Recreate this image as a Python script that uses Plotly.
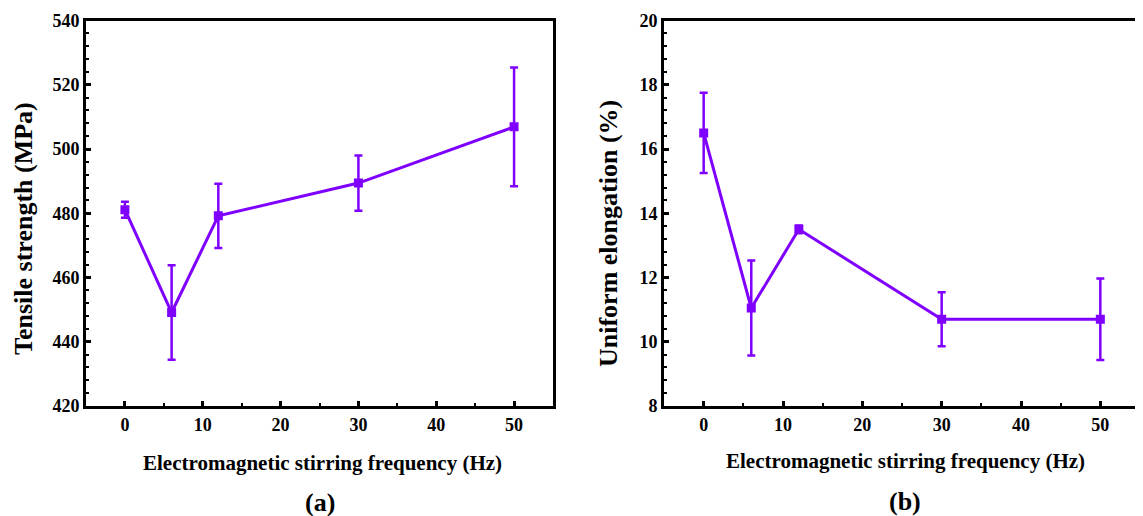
import plotly.graph_objects as go

# ---- data ----
freq = [0, 6, 12, 30, 50]
tensile = [481.1, 449.1, 479.2, 489.4, 506.9]
tensile_err = [2.5, 14.7, 10.0, 8.6, 18.5]
elong = [16.5, 11.05, 13.5, 10.7, 10.7]
elong_err = [1.25, 1.48, 0.12, 0.84, 1.27]

x_ticks = [0, 10, 20, 30, 40, 50]
ya_ticks = [420, 440, 460, 480, 500, 520, 540]
yb_ticks = [8, 10, 12, 14, 16, 18, 20]

x_title = "Electromagnetic stirring frequency (Hz)"
ya_title = "Tensile strength (MPa)"
yb_title = "Uniform elongation (%)"

COLOR = "#7F00FF"
FONT = "Liberation Serif"
W, H = 1143, 516
OFF = 8  # page body margin offset


def px_x(x):
    return (x - OFF) / W


def px_y(y):
    return 1 - (y - OFF) / H


fig = go.Figure()


def add_series(x, y, err, xa, ya):
    fig.add_trace(go.Scatter(
        x=x, y=y, xaxis=xa, yaxis=ya, mode="lines+markers",
        line=dict(color=COLOR, width=3),
        marker=dict(symbol="square", size=9, color=COLOR),
        error_y=dict(type="data", array=err, visible=True, color=COLOR,
                     thickness=2.5, width=4),
        showlegend=False,
    ))


add_series(freq, tensile, tensile_err, "x", "y")
add_series(freq, elong, elong_err, "x2", "y2")

ydom = [px_y(406), px_y(20.5)]
tickfont = dict(family=FONT, size=18, color="black", weight="bold")


def xaxis(domain, anchor):
    return dict(domain=domain, anchor=anchor, range=[-5, 55], automargin=False,
                tickvals=x_ticks, ticks="inside", ticklen=5, tickwidth=2.5,
                tickcolor="black", showline=True, linewidth=3, linecolor="black",
                mirror=True, showgrid=False, zeroline=False, tickfont=tickfont,
                minor=dict(dtick=5, tick0=0, ticks="inside", ticklen=3, tickwidth=2,
                           tickcolor="black"))


def yaxis(domain, anchor, rng, ticks, minor):
    return dict(domain=domain, anchor=anchor, range=rng, tickvals=ticks,
                automargin=False,
                ticks="inside", ticklen=5, tickwidth=2.5, tickcolor="black",
                showline=True, linewidth=3, linecolor="black", mirror=True,
                showgrid=False, zeroline=False, tickfont=tickfont,
                minor=dict(dtick=minor, tick0=rng[0], ticks="inside", ticklen=3,
                           tickwidth=2, tickcolor="black"))


def label(text, x, y, size, angle=0):
    return dict(text=f"<b>{text}</b>", x=px_x(x), y=px_y(y), xref="paper", yref="paper",
                showarrow=False, textangle=angle, xanchor="center", yanchor="middle",
                font=dict(family=FONT, size=size, color="black"))


fig.update_layout(
    width=W, height=H,
    margin=dict(l=0, r=0, t=0, b=0),
    paper_bgcolor="white", plot_bgcolor="white",
    font=dict(family=FONT, color="black"),
    xaxis=xaxis([px_x(86), px_x(553)], "y"),
    yaxis=yaxis(ydom, "x", [420, 540], ya_ticks, 4),
    xaxis2=xaxis([px_x(664), px_x(1140)], "y2"),
    yaxis2=yaxis(ydom, "x2", [8, 20], yb_ticks, 0.4),
    annotations=[
        label(x_title, 322, 463, 21),
        label(x_title, 905, 461, 21),
        label(ya_title, 23, 229, 26, -90),
        label(yb_title, 608, 234, 26, -90),
        label("(a)", 320, 502, 26),
        label("(b)", 905, 501, 26),
    ],
)

fig.write_html("out.html")
